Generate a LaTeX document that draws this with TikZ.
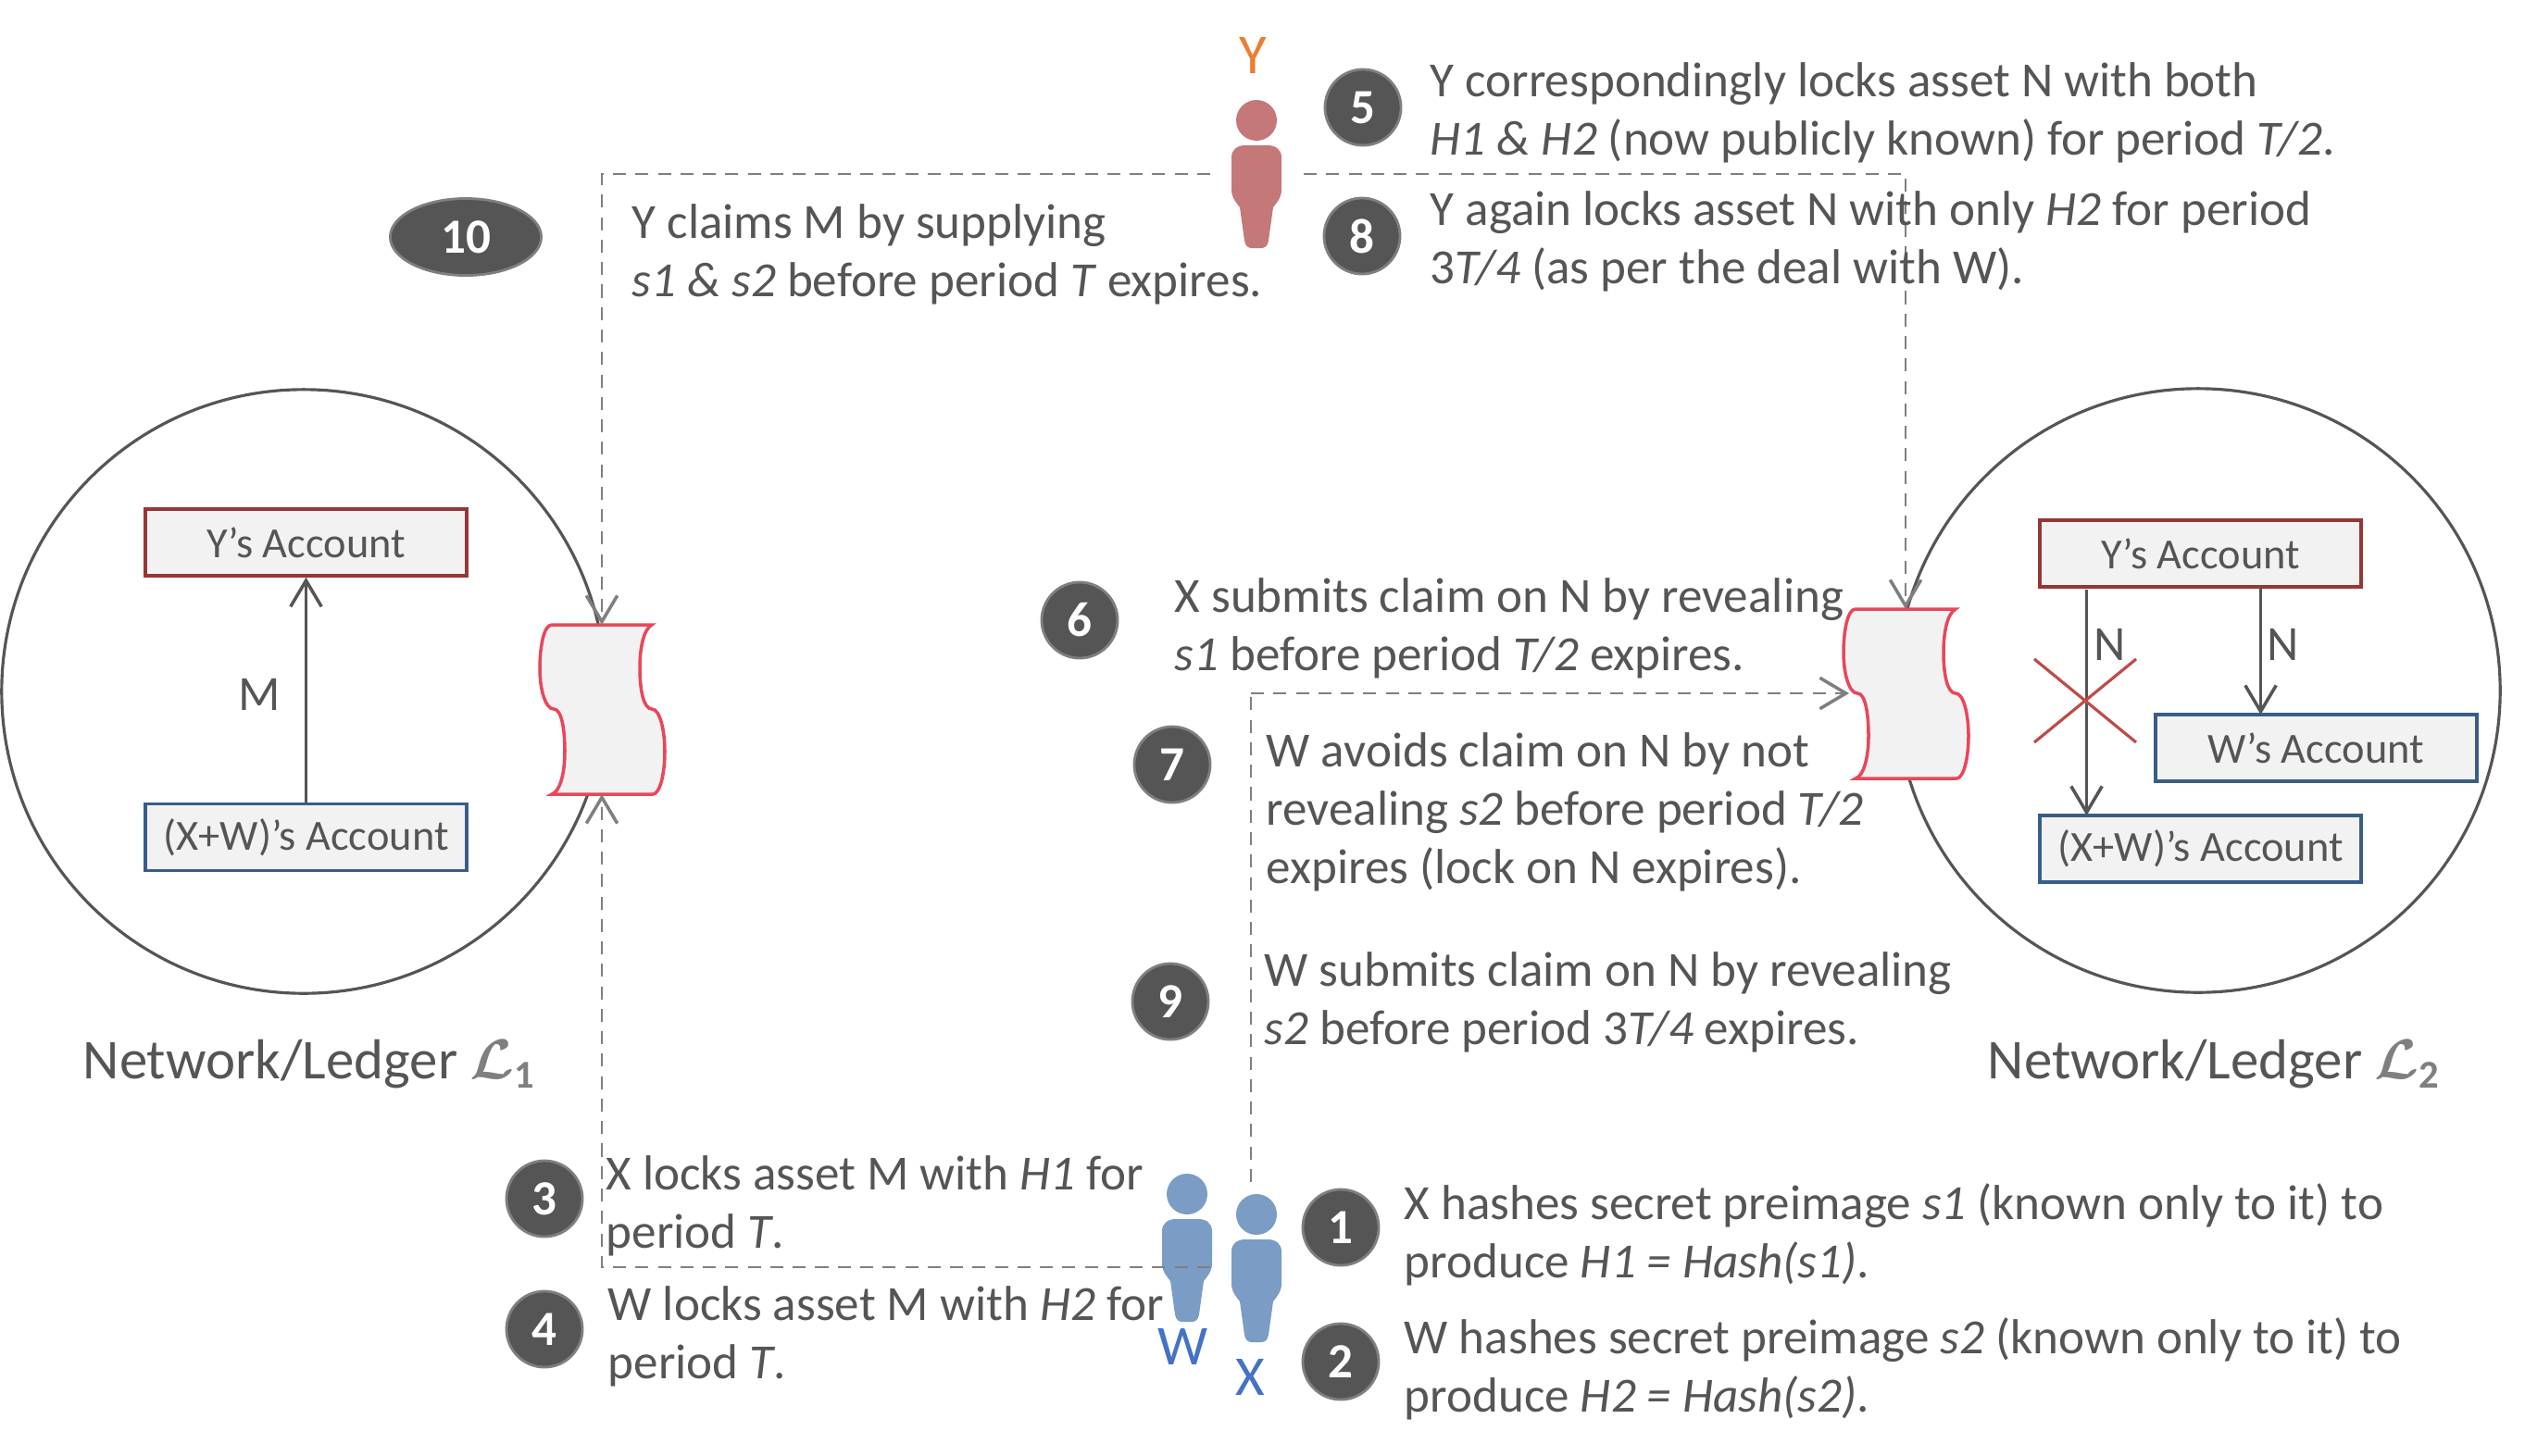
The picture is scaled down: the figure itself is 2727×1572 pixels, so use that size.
\documentclass[tikz,border=0pt]{standalone}
\usepackage{amsmath}
\usepackage{fontspec}
\setmainfont{Carlito}
\usetikzlibrary{arrows.meta,shapes.geometric}
\definecolor{txtgray}{HTML}{555555}
\definecolor{dashgray}{HTML}{7F7F7F}
\definecolor{boxfill}{HTML}{F2F2F2}
\definecolor{boxred}{HTML}{953735}
\definecolor{boxblue}{HTML}{385D8A}
\definecolor{scrollred}{HTML}{E8475A}
\definecolor{crossred}{HTML}{BE4B48}
\definecolor{personred}{HTML}{C47878}
\definecolor{personblue}{HTML}{7B9CC4}
\definecolor{labelorange}{HTML}{ED7D31}
\definecolor{labelblue}{HTML}{4472C4}
\tikzset{
	>={Straight Barb[length=8pt,width=9.5pt,line width=1pt]},
	stepnum/.style={circle,draw=dashgray,line width=0.8pt,fill=txtgray,text=white,inner sep=0pt,minimum size=0.82cm,font=\fontsize{15.1}{17.9}\selectfont\bfseries},
	steptxt/.style={anchor=west,align=left,inner sep=0pt,text=txtgray,font=\fontsize{15.1}{17.9}\selectfont},
	assettxt/.style={inner sep=0pt,text=txtgray,font=\fontsize{15.1}{17.9}\selectfont},
	account/.style={draw,line width=1pt,fill=boxfill,inner sep=0pt,minimum width=3.47cm,minimum height=0.72cm,text=txtgray,font=\fontsize{13.2}{15}\selectfont},
	ledgertxt/.style={anchor=west,inner sep=0pt,text=txtgray,font=\fontsize{17.3}{20}\selectfont},
	actortxt/.style={inner sep=0pt,font=\fontsize{17.3}{20}\selectfont},
	network/.style={circle,draw=txtgray,line width=0.9pt,inner sep=0pt,minimum size=6.52cm},
	flow/.style={->,draw=dashgray,line width=0.8pt,dash pattern=on 4pt off 2.9pt},
	flowend/.style={draw=dashgray,line width=0.8pt,dash pattern=on 4pt off 2.9pt},
	transfer/.style={->,draw=txtgray,line width=1pt},
	person/.pic={
		\path[pic actions] (0,0) circle (22);
		\path[pic actions] (-27,40) .. controls (-27,31) and (-20,27) .. (-12,27) -- (12,27)
			.. controls (20,27) and (27,31) .. (27,40) -- (27,75) .. controls (27,84) and (21,90) .. (18,94)
			-- (13,130) .. controls (12,136) and (9,138) .. (5,138) -- (-5,138) .. controls (-9,138) and (-12,136) .. (-13,130)
			-- (-18,94) .. controls (-21,90) and (-27,84) .. (-27,75) -- cycle;
	},
	scroll/.pic={
		\draw[draw=scrollred,line width=1pt,fill=boxfill] (13,0) -- (121,0)
			.. controls (112,5) and (108,25) .. (108,47) .. controls (108,70) and (112,91) .. (121,91)
			.. controls (130,91) and (135,115) .. (135,137) .. controls (135,160) and (130,183) .. (122,183)
			-- (13,183) .. controls (22,180) and (27,160) .. (27,137) .. controls (27,115) and (24,91) .. (15,91)
			.. controls (6,91) and (0,70) .. (0,47) .. controls (0,25) and (4,0) .. (13,0) -- cycle;
		\coordinate (-top) at (67,0);
		\coordinate (-bot) at (67,183);
		\coordinate (-side) at (6,91);
	}
}
\begin{document}
\begin{tikzpicture}[x=0.01cm,y=-0.01cm] %One unit is one pixel of the drawing, y runs downwards
	\useasboundingbox (0,0) rectangle (2727,1572);
	%Networks
	\node[network] (netA) at (328,747) {};
	\node[network] (netB) at (2374,746) {};
	\node[ledgertxt] (ledgerA) at (89,1150) {Network/Ledger \textcolor{dashgray}{$\boldsymbol{\mathcal{L}}_{\mathbf{1}}$}};
	\node[ledgertxt] (ledgerB) at (2146,1150) {Network/Ledger \textcolor{dashgray}{$\boldsymbol{\mathcal{L}}_{\mathbf{2}}$}};
	%Accounts on the first network
	\node[account,draw=boxred] (yacctA) at (330.5,586) {Y’s Account};
	\node[account,draw=boxblue] (xwacctA) at (330.5,904.5) {(X+W)’s Account};
	\draw[transfer] (xwacctA.north) -- (yacctA.south);
	\node[assettxt] (assetM) at (280,750) {M};
	%Accounts on the second network
	\node[account,draw=boxred] (yacctB) at (2376.5,598) {Y’s Account};
	\node[account,draw=boxblue] (wacctB) at (2501.5,808) {W’s Account};
	\node[account,draw=boxblue] (xwacctB) at (2376.5,917) {(X+W)’s Account};
	\coordinate (lockstart) at (2253.5,637);
	\coordinate (lockend) at (2253.5,881);
	\coordinate (claimstart) at (2441.5,634);
	\coordinate (claimend) at (2441.5,772);
	\draw[transfer] (lockstart) -- (lockend);
	\draw[transfer] (claimstart) -- (claimend);
	\node[assettxt] (assetNa) at (2279,696) {N};
	\node[assettxt] (assetNb) at (2465.5,696) {N};
	\draw[crossred,line width=0.9pt] (2197,712) -- (2307,802);
	\draw[crossred,line width=0.9pt] (2197,802) -- (2307,712);
	%Ledgers
	\pic (scrollA) at (583,675) {scroll};
	\pic (scrollB) at (1991,658) {scroll};
	%Actors
	\pic[fill=personred] (actorY) at (1357,130) {person};
	\pic[fill=personblue] (actorW) at (1282,1290) {person};
	\pic[fill=personblue] (actorX) at (1357,1312) {person};
	\node[actortxt,text=labelorange] (nameY) at (1353,60) {Y};
	\node[actortxt,text=labelblue] (nameW) at (1278,1455) {W};
	\node[actortxt,text=labelblue] (nameX) at (1350,1488) {X};
	%Flows
	\coordinate (yleft) at (1307,188);
	\coordinate (yright) at (1408,188);
	\coordinate (wleft) at (1307,1369);
	\coordinate (xtop) at (1351,1277);
	\coordinate (xbend) at (1351,749);
	\draw[flow] (yleft) -| (scrollA-top);
	\draw[flow] (yright) -| (scrollB-top);
	\draw[flow] (wleft) -| (scrollA-bot);
	\draw[flowend] (xtop) -- (xbend);
	\draw[flow] (xbend) -- (scrollB-side);
	%Steps
	\node[stepnum] (num1) at (1448,1326) {1};
	\node[steptxt] (step1) at (1516,1334) {X hashes secret preimage \textit{s1} (known only to it) to\\produce \textit{H1 = Hash(s1)}.};
	\node[stepnum] (num2) at (1448,1471) {2};
	\node[steptxt] (step2) at (1516,1479) {W hashes secret preimage \textit{s2} (known only to it) to\\produce \textit{H2 = Hash(s2)}.};
	\node[stepnum] (num3) at (588,1295) {3};
	\node[steptxt] (step3) at (654,1303) {X locks asset M with \textit{H1} for\\period \textit{T}.};
	\node[stepnum] (num4) at (588,1436) {4};
	\node[steptxt] (step4) at (656,1444) {W locks asset M with \textit{H2} for\\period \textit{T}.};
	\node[stepnum] (num5) at (1472,116) {5};
	\node[steptxt] (step5) at (1544,122) {Y correspondingly locks asset N with both\\\textit{H1 \& H2} (now publicly known) for period \textit{T/2}.};
	\node[stepnum] (num6) at (1166,670) {6};
	\node[steptxt] (step6) at (1268,679) {X submits claim on N by revealing\\\textit{s1} before period \textit{T/2} expires.};
	\node[stepnum] (num7) at (1266,826) {7};
	\node[steptxt] (step7) at (1367,877) {W avoids claim on N by not\\revealing \textit{s2} before period \textit{T/2}\\expires (lock on N expires).};
	\node[stepnum] (num8) at (1471,255) {8};
	\node[steptxt] (step8) at (1544,261) {Y again locks asset N with only \textit{H2} for period\\3\textit{T/4} (as per the deal with W).};
	\node[stepnum] (num9) at (1264,1082) {9};
	\node[steptxt] (step9) at (1365,1083) {W submits claim on N by revealing\\\textit{s2} before period 3\textit{T/4} expires.};
	\node[stepnum,ellipse,minimum width=1.63cm,minimum height=0.83cm] (num10) at (503,256) {10};
	\node[steptxt] (step10) at (682,275) {Y claims M by supplying\\\textit{s1 \& s2} before period \textit{T} expires.};
\end{tikzpicture}
\end{document}
